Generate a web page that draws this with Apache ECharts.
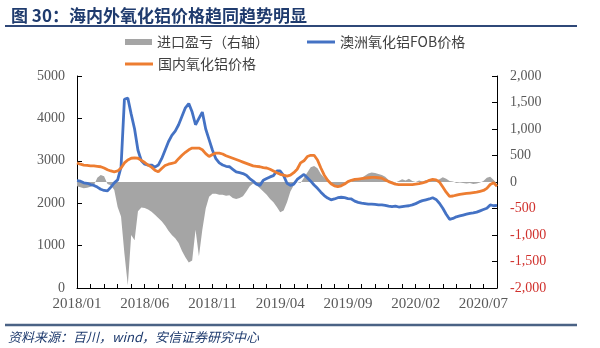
<!DOCTYPE html>
<html><head><meta charset="utf-8">
<style>html,body{margin:0;padding:0;background:#fff}#c{width:600px;height:348px}</style>
<script src="https://cdn.jsdelivr.net/npm/echarts@6.0.0/dist/echarts.min.js"></script>
</head><body><div id="c"></div>
<script>
// x axis: months since 2018/01, one sample per quarter month (≈ weekly)
const tickLabels = ['2018/01','2018/06','2018/11','2019/04','2019/09','2020/02','2020/07'];
const monthStep = 0.25;
const seriesNames = ['进口盈亏（右轴）','澳洲氧化铝FOB价格','国内氧化铝价格'];

// 进口盈亏 (right axis, 元/吨)
const importProfit = [
 -80,-100,-120,-110,-90,-60,80,130,110,-40,-60,-150,-470,-650,-1350,-1950,-1000,-1100,-550,-480,
 -490,-520,-560,-620,-680,-740,-820,-920,-1000,-1060,-1150,-1300,-1420,-1520,-1480,-900,-1400,-900,-500,-280,
 -220,-220,-240,-240,-260,-250,-300,-320,-300,-270,-180,-80,-30,-60,-120,-180,-240,-320,-380,-470,
 -570,-540,-380,-180,-60,0,-20,80,180,280,300,260,150,80,20,-40,-80,-90,-60,-20,
 20,10,40,60,80,120,160,180,170,150,130,100,40,10,-10,20,50,30,60,20,
 0,30,10,40,20,60,30,50,90,60,20,10,-20,-10,-20,-30,-20,-40,-30,-10,
 20,80,100,40,-30
];
// 澳洲氧化铝FOB价格 (left axis)
const fobPrice = [
 2530,2520,2480,2470,2440,2420,2380,2330,2300,2290,2380,2480,2550,2850,4450,4480,4100,3750,3250,3000,
 2920,2900,2900,2850,2900,3050,3250,3450,3600,3700,3850,4050,4250,4350,4150,3850,4000,4150,3750,3500,
 3250,3050,2950,2900,2870,2860,2800,2740,2720,2700,2660,2580,2520,2450,2420,2540,2580,2620,2650,2760,
 2760,2650,2470,2420,2450,2560,2620,2680,2600,2520,2430,2350,2260,2180,2120,2080,2100,2130,2140,2130,
 2110,2100,2050,2020,2000,1990,1980,1980,1970,1960,1960,1950,1930,1920,1930,1910,1920,1930,1940,1960,
 1990,2030,2060,2080,2100,2130,2090,2000,1880,1740,1620,1640,1680,1700,1720,1740,1760,1770,1790,1820,
 1850,1880,1960,1940,1950
];
// 国内氧化铝价格 (left axis)
const domesticPrice = [
 2950,2920,2900,2890,2880,2880,2870,2860,2830,2790,2760,2740,2760,2830,2950,3020,3060,3070,3060,3010,
 2960,2900,2850,2780,2740,2820,2890,2920,2940,2960,3050,3130,3200,3260,3300,3300,3300,3260,3170,3100,
 3150,3180,3180,3160,3120,3090,3060,3030,3000,2970,2940,2910,2880,2870,2860,2840,2830,2800,2760,2720,
 2680,2660,2640,2660,2720,2800,2950,3000,3100,3130,3130,3020,2830,2660,2540,2460,2410,2390,2410,2450,
 2510,2540,2560,2570,2580,2590,2600,2610,2610,2600,2590,2550,2510,2480,2450,2440,2440,2440,2440,2440,
 2450,2460,2480,2500,2540,2560,2550,2500,2380,2260,2160,2170,2190,2210,2220,2230,2240,2250,2260,2280,
 2300,2350,2440,2480,2400
];

function pairs(arr){ return arr.map((v,i)=>[i*monthStep, v]); }

const chart = echarts.init(document.getElementById('c'), null, {renderer:'canvas'});
const serif = 'Liberation Serif';
const cjk = 'Noto Sans CJK SC';
const legendText = {fontFamily: cjk, fontSize: 14, color: '#404040'};
chart.setOption({
  animation: false,
  backgroundColor: '#fff',
  title: {
    text: '图 30：海内外氧化铝价格趋同趋势明显',
    left: 6, top: 2,
    textStyle: {fontFamily: cjk, fontSize: 17, fontWeight: 'bold', color: '#1f3b6e'}
  },
  legend: [
    {data:[seriesNames[0]], left:120, top:30, icon:'rect', itemWidth:27, itemHeight:6, selectedMode:false, textStyle:legendText},
    {data:[seriesNames[1]], left:302, top:30, icon:'rect', itemWidth:28, itemHeight:3, selectedMode:false, textStyle:legendText},
    {data:[seriesNames[2]], left:120, top:52, icon:'rect', itemWidth:28, itemHeight:3, selectedMode:false, textStyle:legendText}
  ],
  grid: {left:77, right:103, top:76, bottom:60, containLabel:false},
  xAxis: {
    type:'value', min:0, max:31, interval:1,
    axisLine:{show:true, lineStyle:{color:'#000', width:1}},
    axisTick:{show:true, inside:true, length:4, lineStyle:{color:'#000'}},
    axisLabel:{
      fontFamily:serif, fontSize:15, color:'#595959', margin:9,
      formatter:(v)=> (Math.abs(v % 5) < 1e-6 ? (tickLabels[Math.round(v/5)] || '') : '')
    },
    splitLine:{show:false}
  },
  yAxis: [
    {
      type:'value', min:0, max:5000, interval:1000, position:'left',
      axisLine:{show:true, lineStyle:{color:'#000', width:1}},
      axisTick:{show:true, inside:true, length:5, lineStyle:{color:'#000'}},
      axisLabel:{fontFamily:serif, fontSize:14, color:'#595959', margin:12, formatter:(v)=> String(v)},
      splitLine:{show:false}
    },
    {
      type:'value', min:-2000, max:2000, interval:500, position:'right',
      axisLine:{show:true, lineStyle:{color:'#000', width:1}},
      axisTick:{show:true, inside:true, length:5, lineStyle:{color:'#000'}},
      axisLabel:{
        fontFamily:serif, fontSize:14, margin:13,
        formatter:(v)=> v.toLocaleString('en-US'),
        color:(v)=> (Number(v) < 0 ? '#d0312d' : '#595959')
      },
      splitLine:{show:false}
    }
  ],
  series: [
    {name:seriesNames[0], type:'line', yAxisIndex:1, data:pairs(importProfit), symbol:'none',
     lineStyle:{width:0}, itemStyle:{color:'#a5a5a5'}, areaStyle:{color:'#a5a5a5', opacity:1}, z:1},
    {name:seriesNames[1], type:'line', yAxisIndex:0, data:pairs(fobPrice), symbol:'none',
     lineStyle:{width:2.8, color:'#4472c4'}, itemStyle:{color:'#4472c4'}, z:3},
    {name:seriesNames[2], type:'line', yAxisIndex:0, data:pairs(domesticPrice), symbol:'none',
     lineStyle:{width:2.8, color:'#ed7d31'}, itemStyle:{color:'#ed7d31'}, z:4}
  ],
  graphic: [
    {type:'line', shape:{x1:5, y1:26, x2:577, y2:26}, style:{stroke:'#2f4878', lineWidth:2}, silent:true},
    {type:'line', shape:{x1:5, y1:325, x2:577, y2:325}, style:{stroke:'#4a6285', lineWidth:2.5}, silent:true},
    {type:'text', left:8, top:331, silent:true,
     style:{text:'资料来源：百川，wind，安信证券研究中心', fontFamily:cjk, fontSize:13, fontStyle:'italic', fill:'#1f3b6e'}}
  ]
});
</script>
</body></html>
